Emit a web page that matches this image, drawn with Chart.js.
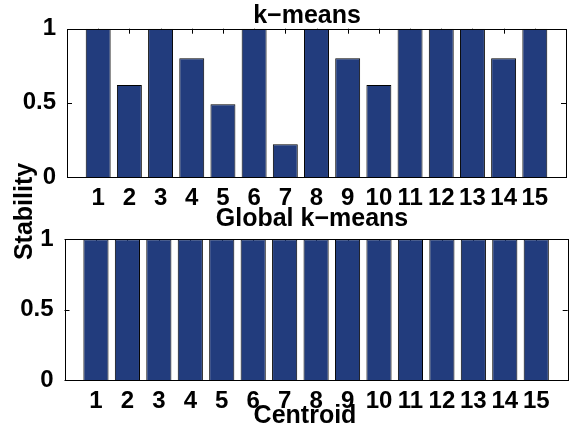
<!DOCTYPE html>
<html>
<head>
<meta charset="utf-8">
<script src="https://cdn.jsdelivr.net/npm/chart.js@4/dist/chart.umd.min.js"></script>
<style>
    html, body { margin: 0; padding: 0; background: #fff; }
    #wrap { position: relative; width: 574px; height: 429px; }
    #wrap canvas { position: absolute; left: 0; top: 0; }
</style>
</head>
<body>
<div id="wrap">
    <canvas id="topChart" width="574" height="429"></canvas>
    <canvas id="bottomChart" width="574" height="429"></canvas>
</div>
<script>
const centroids = [1, 2, 3, 4, 5, 6, 7, 8, 9, 10, 11, 12, 13, 14, 15];
const kmeansStability = [1, 0.62, 1, 0.8, 0.49, 1, 0.22, 1, 0.8, 0.62, 1, 1, 1, 0.8, 1];
const globalStability = [1, 1, 1, 1, 1, 1, 1, 1, 1, 1, 1, 1, 1, 1, 1];
const yTicks = [0, 0.5, 1];

const FONT = "'Liberation Sans', Arial, Helvetica, sans-serif";
const BAR_COLOR = "#223c7d";

// matlab style box, inward ticks and free placed texts
const matlabAxes = {
    id: "matlabAxes",
    beforeDatasetsDraw(chart) {
        const { ctx, chartArea: a, scales: { x, y } } = chart;
        ctx.save();
        ctx.strokeStyle = "#000";
        ctx.lineWidth = 1;
        ctx.beginPath();
        centroids.forEach((c, i) => {
            const px = Math.round(x.getPixelForValue(i + 1)) + 0.5;
            ctx.moveTo(px, a.top);
            ctx.lineTo(px, a.top + 5);
            ctx.moveTo(px, a.bottom);
            ctx.lineTo(px, a.bottom - 5);
        });
        yTicks.forEach(t => {
            const py = Math.round(y.getPixelForValue(t)) + 0.5;
            ctx.moveTo(a.left, py);
            ctx.lineTo(a.left + 5, py);
            ctx.moveTo(a.right, py);
            ctx.lineTo(a.right - 5, py);
        });
        ctx.stroke();
        ctx.restore();
    },
    afterDatasetsDraw(chart, args, opts) {
        const { ctx, chartArea: a } = chart;
        ctx.save();
        ctx.strokeStyle = "#000";
        ctx.lineWidth = 1;
        ctx.strokeRect(Math.round(a.left) + 0.5, Math.round(a.top) + 0.5,
            Math.round(a.right - a.left), Math.round(a.bottom - a.top));
        ctx.fillStyle = "#000";
        ctx.textAlign = "center";
        ctx.textBaseline = "middle";
        (opts.texts || []).forEach(t => {
            ctx.save();
            ctx.font = "bold " + t.size + "px " + FONT;
            ctx.translate(t.x, t.y);
            if (t.rotate) {
                ctx.rotate(t.rotate);
            }
            ctx.fillText(t.text, 0, 0);
            ctx.restore();
        });
        ctx.restore();
    }
};

function makeChart(canvasId, values, box, texts) {
    return new Chart(document.getElementById(canvasId).getContext("2d"), {
        type: "bar",
        data: {
            labels: ["", ...centroids.map(String), ""],
            datasets: [{
                data: [null, ...values, null],
                backgroundColor: BAR_COLOR,
                borderColor: "#000",
                borderWidth: 1,
                barPercentage: 0.8,
                categoryPercentage: 1
            }]
        },
        options: {
            responsive: false,
            animation: false,
            layout: {
                padding: { top: box.top, left: 0, right: 574 - box.right, bottom: 429 - box.bottom - 36 }
            },
            plugins: {
                legend: { display: false },
                tooltip: { enabled: false },
                matlabAxes: { texts: texts }
            },
            scales: {
                x: {
                    offset: false,
                    grid: { display: false },
                    border: { display: false },
                    ticks: {
                        autoSkip: false,
                        maxRotation: 0,
                        padding: -1,
                        color: "#000",
                        font: { family: FONT, size: 24, weight: "bold" }
                    },
                    afterFit(scale) { scale.height = 36; }
                },
                y: {
                    min: 0,
                    max: 1,
                    grid: { display: false },
                    border: { display: false },
                    ticks: {
                        stepSize: 0.5,
                        padding: 3,
                        color: "#000",
                        font: { family: FONT, size: 24, weight: "bold" },
                        callback: v => String(Number(v.toFixed(2)))
                    },
                    afterFit(scale) { scale.width = box.left; }
                }
            }
        },
        plugins: [matlabAxes]
    });
}

makeChart("topChart", kmeansStability, { left: 67, right: 566, top: 28.7, bottom: 177 }, [
    { text: "k\u2212means", x: 307, y: 16, size: 25 }
]);

makeChart("bottomChart", globalStability, { left: 64.5, right: 567.7, top: 239.3, bottom: 380 }, [
    { text: "Global k\u2212means", x: 312, y: 219.5, size: 25 },
    { text: "Stability", x: 25, y: 211.5, size: 25, rotate: -Math.PI / 2 },
    { text: "Centroid", x: 305, y: 416, size: 25 }
]);
</script>
</body>
</html>
